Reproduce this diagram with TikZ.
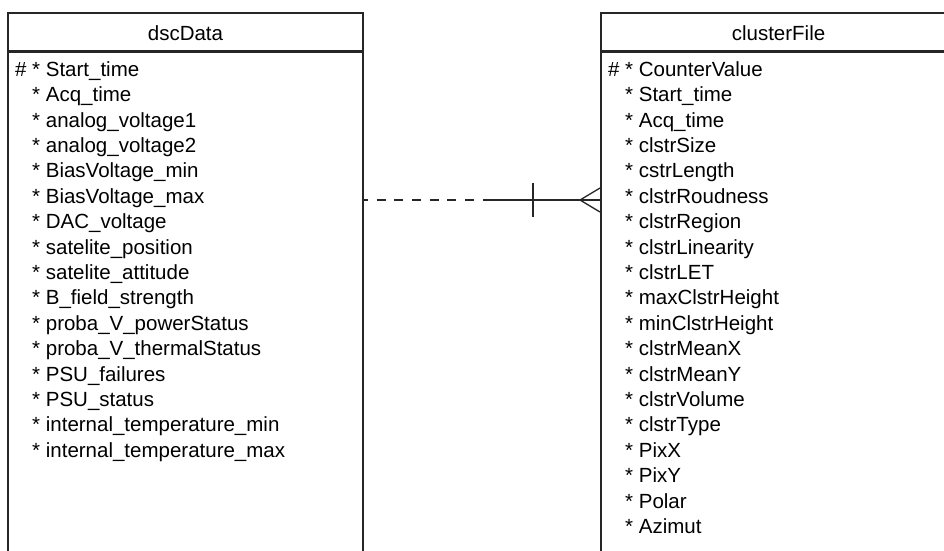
\documentclass[tikz,border=0pt]{standalone}
\usepackage{fontspec}
\setmainfont{Liberation Sans}
\usetikzlibrary{positioning}

\tikzset{
  tbl/.style={draw=black!85, line width=1.3pt, minimum width=355pt, inner sep=0pt},
  hdr/.style={tbl, minimum height=38pt, text height=17.5pt, text depth=0pt},
  body/.style={tbl, minimum height=520pt},
  row/.style={anchor=base west, inner sep=0pt},
  rel/.style={draw=black!85, line width=1.3pt},
}

\begin{document}
\begin{tikzpicture}[x=1pt,y=-1pt,font=\fontsize{20.5}{25}\selectfont]
\clip (0,0) rectangle (944,550);
            % Tables
\node[hdr] (dscHead) at (185.5,32) {dscData};
\node[body, below=0pt of dscHead] (dscBody) {};
\node[hdr] (cfHead) at (778.5,32) {clusterFile};
\node[body, below=0pt of cfHead] (cfBody) {};
%dscData rows
\node[row] (d1)  at (32,76.3 ) {\llap{\# }* Start\_time};
\node[row] (d2)  at (32,101.7) {* Acq\_time};
\node[row] (d3)  at (32,127.1) {* analog\_voltage1};
\node[row] (d4)  at (32,152.5) {* analog\_voltage2};
\node[row] (d5)  at (32,177.9) {* BiasVoltage\_min};
\node[row] (d6)  at (32,203.3) {* BiasVoltage\_max};
\node[row] (d7)  at (32,228.7) {* DAC\_voltage};
\node[row] (d8)  at (32,254.1) {* satelite\_position};
\node[row] (d9)  at (32,279.5) {* satelite\_attitude};
\node[row] (d10) at (32,304.9) {* B\_field\_strength};
\node[row] (d11) at (32,330.3) {* proba\_V\_powerStatus};
\node[row] (d12) at (32,355.7) {* proba\_V\_thermalStatus};
\node[row] (d13) at (32,381.1) {* PSU\_failures};
\node[row] (d14) at (32,406.5) {* PSU\_status};
\node[row] (d15) at (32,431.9) {* internal\_temperature\_min};
\node[row] (d16) at (32,457.3) {* internal\_temperature\_max};
%clusterFile rows
\node[row] (c1)  at (625,76.3 ) {\llap{\# }* CounterValue};
\node[row] (c2)  at (625,101.7) {* Start\_time};
\node[row] (c3)  at (625,127.1) {* Acq\_time};
\node[row] (c4)  at (625,152.5) {* clstrSize};
\node[row] (c5)  at (625,177.9) {* cstrLength};
\node[row] (c6)  at (625,203.3) {* clstrRoudness};
\node[row] (c7)  at (625,228.7) {* clstrRegion};
\node[row] (c8)  at (625,254.1) {* clstrLinearity};
\node[row] (c9)  at (625,279.5) {* clstrLET};
\node[row] (c10) at (625,304.9) {* maxClstrHeight};
\node[row] (c11) at (625,330.3) {* minClstrHeight};
\node[row] (c12) at (625,355.7) {* clstrMeanX};
\node[row] (c13) at (625,381.1) {* clstrMeanY};
\node[row] (c14) at (625,406.5) {* clstrVolume};
\node[row] (c15) at (625,431.9) {* clstrType};
\node[row] (c16) at (625,457.3) {* PixX};
\node[row] (c17) at (625,482.7) {* PixY};
\node[row] (c18) at (625,508.1) {* Polar};
\node[row] (c19) at (625,533.5) {* Azimut};
%Relation
\coordinate (relMid) at (483,200);
\coordinate (tick) at (533,200);
\coordinate (crow) at (580,200);
\coordinate (crowEnd) at (600,200);
\draw[rel,dash pattern=on 9pt off 8.7pt,dash phase=4.7pt] (dscBody.east |- relMid) -- (relMid);
\draw[rel] (relMid) -- (cfBody.west |- relMid);
\draw[rel] ([yshift=17pt]tick) -- ([yshift=-17pt]tick);%one
\draw[rel] ([yshift=12pt]crowEnd) -- (crow) -- ([yshift=-12pt]crowEnd);%many

\end{tikzpicture}
\end{document}
